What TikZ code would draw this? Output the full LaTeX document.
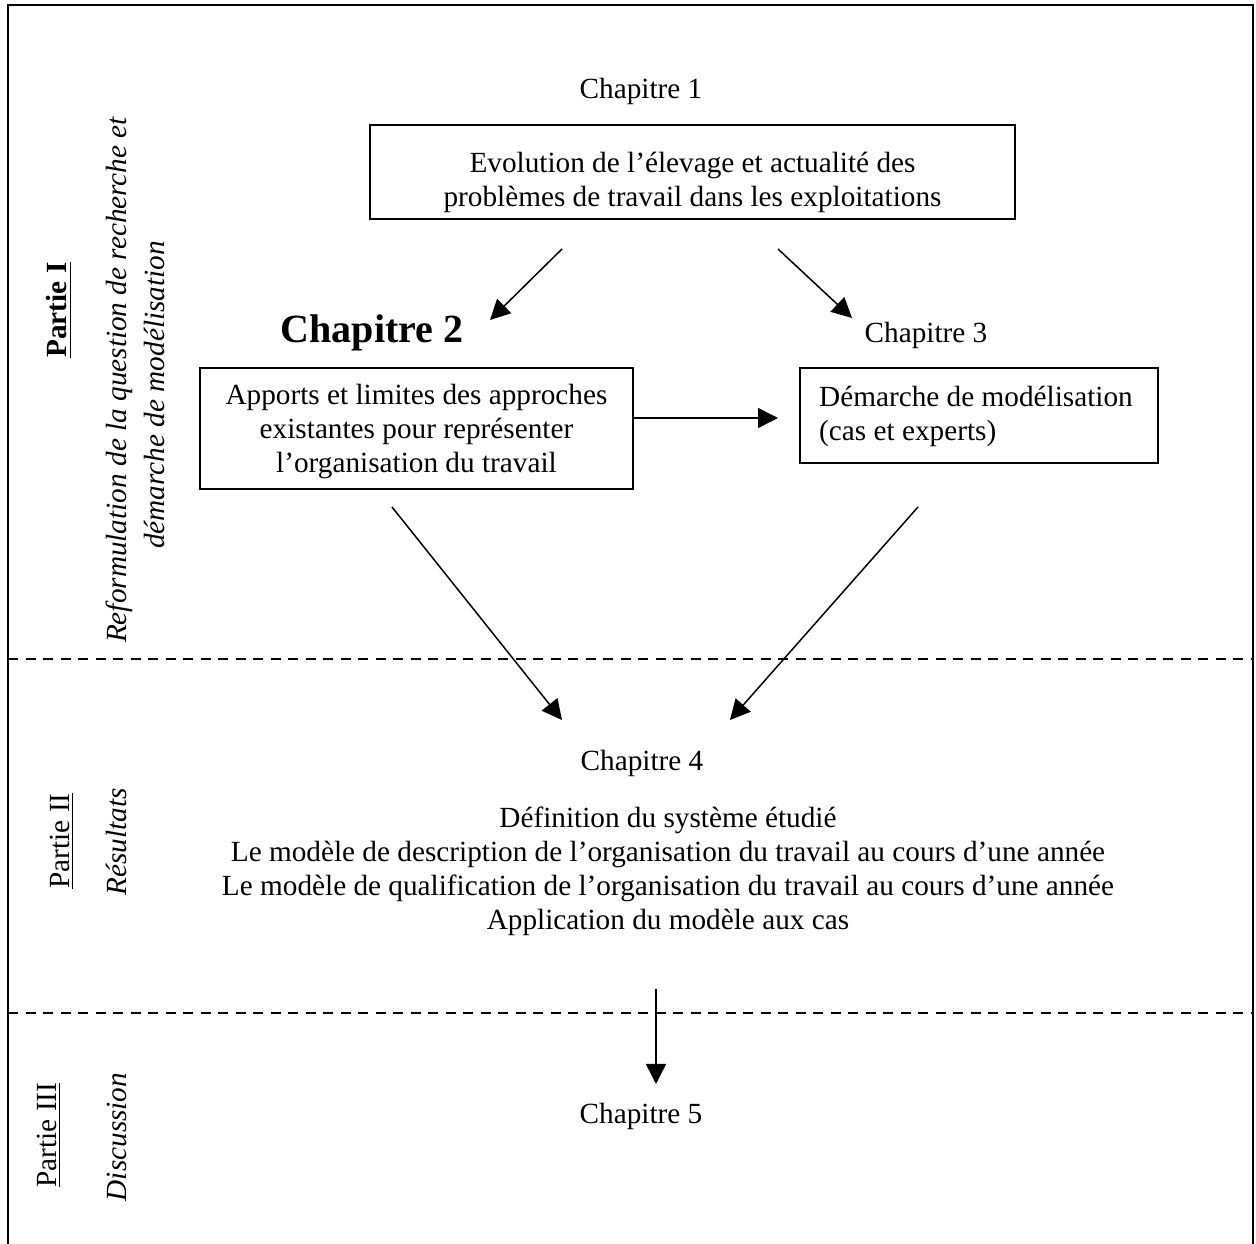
\documentclass[tikz,border=0pt]{standalone}
\usepackage{fontspec}
\setmainfont{Liberation Serif}
\usetikzlibrary{arrows.meta}
\begin{document}
\begin{tikzpicture}[x=0.4pt,y=-0.4pt,
  txt/.style={font=\fontsize{11.7}{13.6}\selectfont, inner sep=0pt},
  chbox/.style={draw, line width=0.8pt, inner sep=0pt},
  arr/.style={line width=0.6pt, -{Triangle[length=8pt,width=8pt]}},
  sep/.style={dashed, dash pattern=on 4pt off 3pt, line width=0.6pt},
  side/.style={rotate=90, inner sep=0pt, font=\fontsize{11.7}{14.8}\selectfont\itshape},
  part/.style={rotate=90, inner sep=0pt, font=\fontsize{11.7}{13.6}\selectfont}]
\useasboundingbox (0,0) rectangle (1256,1244);
% frame
\draw[line width=0.8pt] (8,1244) -- (8,5) -- (1253,5) -- (1253,1244);
\draw[sep] (8,659) -- (1253,659);
\draw[sep] (8,1013) -- (1253,1013);
% side labels
\node[part, font=\fontsize{11.7}{13.6}\selectfont\bfseries] (p1) at (59,310) {\underline{Partie I}};
\node[side] (p1a) at (119,380) {Reformulation de la question de recherche et};
\node[side] (p1b) at (154,395) {démarche de modélisation};
\node[part] (p2) at (62,841) {\underline{Partie II}};
\node[side] (p2t) at (117,842) {Résultats};
\node[part] (p3) at (49,1135) {\underline{Partie III}};
\node[side] (p3t) at (117,1137) {Discussion};
% chapters
\node[txt] (c1) at (641,91) {Chapitre 1};
\node[chbox, minimum width=645*0.4pt, minimum height=94*0.4pt] (b1) at (692.5,172) {};
\node[txt, align=center] (t1) at (692.5,182) {Evolution de l'élevage et actualité des\\ problèmes de travail dans les exploitations};
\node[txt, font=\fontsize{16}{19}\selectfont\bfseries] (c2) at (372,333) {Chapitre 2};
\node[chbox, minimum width=433*0.4pt, minimum height=121*0.4pt] (b2) at (416.5,428.5) {};
\node[txt, align=center] (t2) at (416.5,431.5) {Apports et limites des approches\\ existantes pour représenter\\ l'organisation du travail};
\node[txt] (c3) at (926,335) {Chapitre 3};
\node[chbox, minimum width=358*0.4pt, minimum height=95*0.4pt] (b3) at (979,415.5) {};
\node[txt, align=left] (t3) at (976,416) {Démarche de modélisation\\ (cas et experts)};
\node[txt] (c4) at (642,763) {Chapitre 4};
\node[txt, align=center] (r4) at (668,871.5) {Définition du système étudié\\ Le modèle de description de l'organisation du travail au cours d'une année\\ Le modèle de qualification de l'organisation du travail au cours d'une année\\ Application du modèle aux cas};
\node[txt] (c5) at (641,1116) {Chapitre 5};
% arrow ends
\coordinate (a1s) at (562,249); \coordinate (a1e) at (490,320);
\coordinate (a2s) at (778,249); \coordinate (a2e) at (852,318);
\coordinate (a4s) at (392,507); \coordinate (a4e) at (562,720);
\coordinate (a5s) at (918,507); \coordinate (a5e) at (730,720);
\coordinate (a6s) at (656,989); \coordinate (a6e) at (656,1084);
\coordinate (a3e) at (778,418);
\draw[arr] (a1s) -- (a1e);
\draw[arr] (a2s) -- (a2e);
\draw[arr] (b2.east |- a3e) -- (a3e);
\draw[arr] (a4s) -- (a4e);
\draw[arr] (a5s) -- (a5e);
\draw[arr] (a6s) -- (a6e);
\end{tikzpicture}
\end{document}
